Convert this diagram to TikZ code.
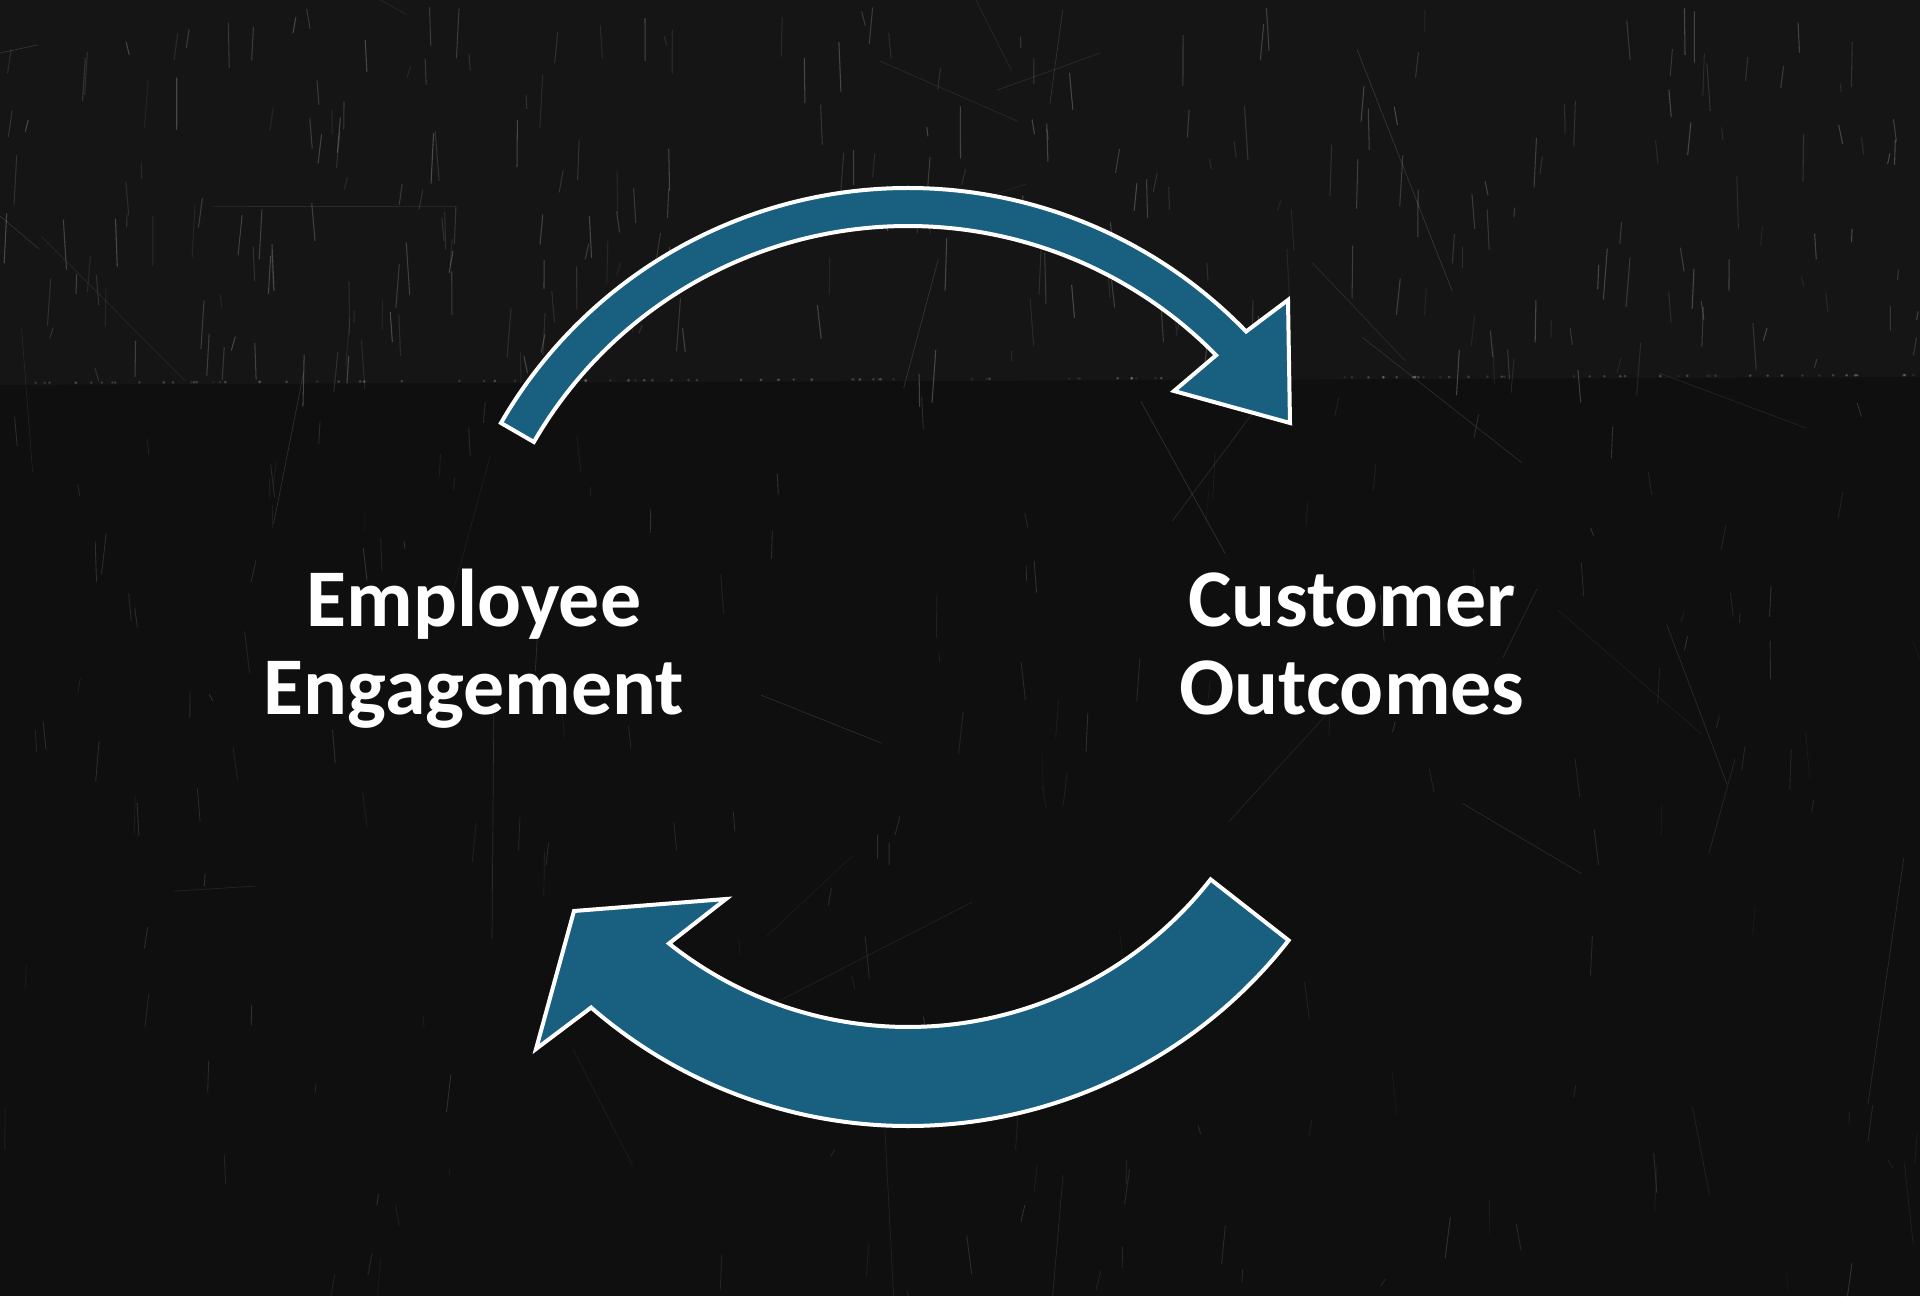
\documentclass[tikz,border=0pt]{standalone}
\usepackage{fontspec}
\newfontfamily\labelfont{Carlito}
\usetikzlibrary{calc}
\definecolor{arrowblue}{RGB}{24,95,128}
\definecolor{boardbg}{RGB}{15,15,15}
\definecolor{boardtop}{RGB}{21,21,22}
\definecolor{chalk}{RGB}{200,200,205}
\begin{document}
\begin{tikzpicture}[x=0.01cm,y=0.01cm,
  arrowshape/.style={fill=arrowblue,draw=white,line width=0.04cm,line join=miter},
  lbl/.style={text=white,font=\labelfont\bfseries\fontsize{23.3}{25.3}\selectfont,align=center,inner sep=0pt},
  scratch/.style={draw=chalk,line cap=round}]
\useasboundingbox (0,0) rectangle (1920,1296);
\fill[boardbg] (0,0) rectangle (1920,1296);
\fill[boardtop] (0,911) -- (1920,919) -- (1920,1296) -- (0,1296) -- cycle;
% chalkboard texture
\pgfmathsetseed{4242}
\foreach \i in {1,...,260}{
  \pgfmathsetmacro\xa{rnd*1920}
  \pgfmathsetmacro\ya{920+rnd*370}
  \pgfmathsetmacro\ln{8+rnd*45}
  \pgfmathsetmacro\dx{(rnd-0.5)*8}
  \pgfmathsetmacro\op{0.08+rnd*0.22}
  \draw[scratch,opacity=\op,line width=0.3pt] (\xa,\ya) -- ++(\dx,-\ln);
}
\foreach \i in {1,...,160}{
  \pgfmathsetmacro\xa{rnd*1920}
  \pgfmathsetmacro\ya{rnd*900}
  \pgfmathsetmacro\ln{6+rnd*40}
  \pgfmathsetmacro\dx{(rnd-0.5)*10}
  \pgfmathsetmacro\op{0.05+rnd*0.15}
  \draw[scratch,opacity=\op,line width=0.25pt] (\xa,\ya) -- ++(\dx,-\ln);
}
\foreach \i in {1,...,40}{
  \pgfmathsetmacro\xa{rnd*1920}
  \pgfmathsetmacro\ya{rnd*1296}
  \pgfmathsetmacro\ang{rnd*360}
  \pgfmathsetmacro\ln{60+rnd*200}
  \pgfmathsetmacro\op{0.06+rnd*0.12}
  \draw[scratch,opacity=\op,line width=0.2pt] (\xa,\ya) -- ++(\ang:\ln);
}
\foreach \i in {1,...,120}{
  \pgfmathsetmacro\xa{rnd*1920}
  \pgfmathsetmacro\op{0.08+rnd*0.25}
  \fill[chalk,opacity=\op] (\xa,913+\xa/240) circle[radius=1.5];
}
% centres of the arcs
\coordinate (c1) at (908,638);
\coordinate (c2) at (908,653);
% top arrow (Employee -> Customer)
\draw[arrowshape] ($(c1)+(150:470)$) coordinate (topTail)
  arc[start angle=150,end angle=44,radius=470]
  -- (1288,996) coordinate (topBarbA)
  -- (1290,873) coordinate (topTip)
  -- (1174,905) coordinate (topBarbB)
  -- ($(c1)+(44.5:432)$)
  arc[start angle=44.5,end angle=150,radius=432] -- cycle;
% bottom arrow (Customer -> Employee)
\draw[arrowshape] ($(c2)+(-38:483)$) coordinate (botTail)
  arc[start angle=-38,end angle=-131,radius=483]
  -- (536,247) coordinate (botBarbA)
  -- (574,385) coordinate (botTip)
  -- (726,397) coordinate (botBarbB)
  -- ($(c2)+(-128.5:384)$)
  arc[start angle=-128.5,end angle=-38,radius=384] -- cycle;
% labels
\node[lbl,anchor=base] (emp) at (474,581) {Employee\\Engagement};
\node[lbl,anchor=base] (cust) at (1352,581) {Customer\\Outcomes};
\end{tikzpicture}
\end{document}
